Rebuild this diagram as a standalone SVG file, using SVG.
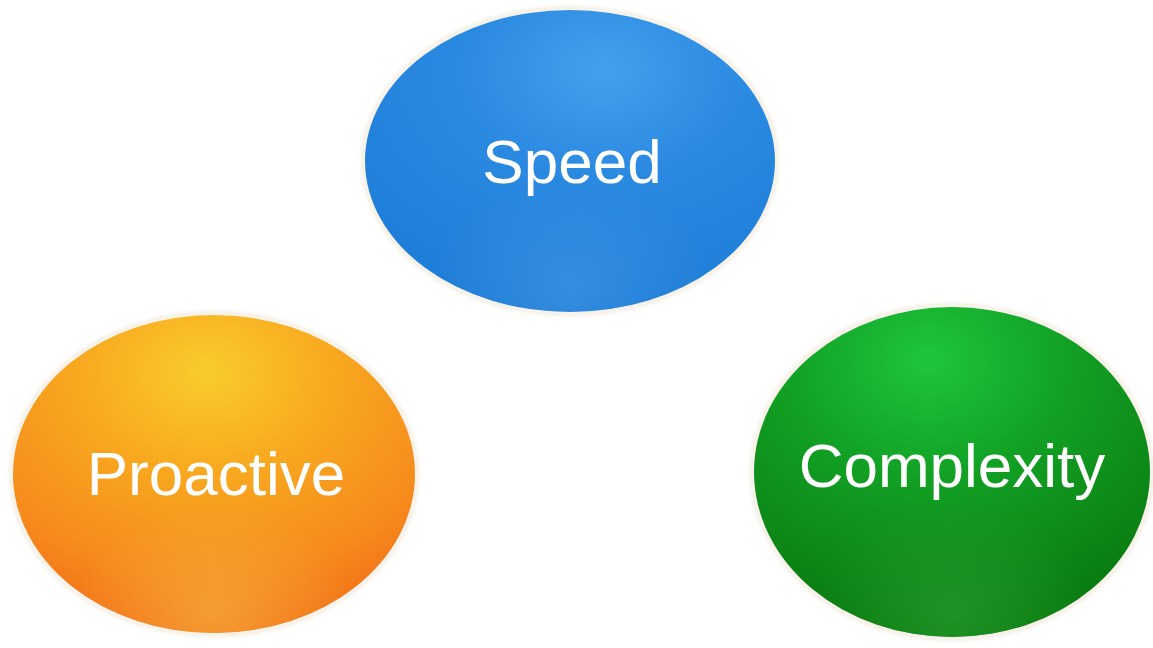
<svg xmlns="http://www.w3.org/2000/svg" width="1153" height="648" viewBox="0 0 1153 648">
  <style>
    .label { font-family: "Liberation Sans", Arial, sans-serif; font-size: 62px; fill: #ffffff; text-anchor: middle; }
    .halo { fill: none; stroke: #f6f1e8; stroke-width: 5; filter: url(#soft); }
  </style>
  <defs>
    <filter id="soft" x="-10%" y="-10%" width="120%" height="120%">
      <feGaussianBlur stdDeviation="1.5"/>
    </filter>
    <!-- top highlight gradients -->
    <radialGradient id="blueTop" cx="0.58" cy="0.2" r="0.8" fx="0.58" fy="0.2">
      <stop offset="0" stop-color="#43a0ef"/>
      <stop offset="0.45" stop-color="#2a89e0"/>
      <stop offset="1" stop-color="#1e7dd8"/>
    </radialGradient>
    <radialGradient id="orangeTop" cx="0.48" cy="0.18" r="0.8" fx="0.48" fy="0.18">
      <stop offset="0" stop-color="#f9cc2c"/>
      <stop offset="0.4" stop-color="#f8a81f"/>
      <stop offset="0.8" stop-color="#f68a1c"/>
      <stop offset="1" stop-color="#f27418"/>
    </radialGradient>
    <radialGradient id="greenTop" cx="0.44" cy="0.16" r="0.8" fx="0.44" fy="0.16">
      <stop offset="0" stop-color="#1ec63c"/>
      <stop offset="0.45" stop-color="#12a024"/>
      <stop offset="1" stop-color="#0a7c10"/>
    </radialGradient>
    <!-- bottom reflection -->
    <radialGradient id="blueLow" cx="0.5" cy="0.92" r="0.35">
      <stop offset="0" stop-color="#5aa8ec" stop-opacity="0.35"/>
      <stop offset="1" stop-color="#5aa8ec" stop-opacity="0"/>
    </radialGradient>
    <radialGradient id="orangeLow" cx="0.5" cy="0.94" r="0.35">
      <stop offset="0" stop-color="#f6ac3c" stop-opacity="0.7"/>
      <stop offset="1" stop-color="#f6ac3c" stop-opacity="0"/>
    </radialGradient>
    <radialGradient id="greenLow" cx="0.5" cy="0.93" r="0.35">
      <stop offset="0" stop-color="#2a9a2e" stop-opacity="0.7"/>
      <stop offset="1" stop-color="#2a9a2e" stop-opacity="0"/>
    </radialGradient>
  </defs>

  <rect width="1153" height="648" fill="#ffffff"/>

  <g id="node-speed">
    <ellipse class="halo" cx="570" cy="161" rx="207" ry="153"/>
    <ellipse cx="570" cy="161" rx="205" ry="151" fill="url(#blueTop)"/>
    <ellipse cx="570" cy="161" rx="205" ry="151" fill="url(#blueLow)"/>
    <text class="label" x="572" y="183">Speed</text>
  </g>

  <g id="node-proactive">
    <ellipse class="halo" cx="214" cy="474" rx="203" ry="161"/>
    <ellipse cx="214" cy="474" rx="201" ry="159" fill="url(#orangeTop)"/>
    <ellipse cx="214" cy="474" rx="201" ry="159" fill="url(#orangeLow)"/>
    <text class="label" x="216" y="495">Proactive</text>
  </g>

  <g id="node-complexity">
    <ellipse class="halo" cx="952" cy="472" rx="200" ry="167"/>
    <ellipse cx="952" cy="472" rx="198" ry="165" fill="url(#greenTop)"/>
    <ellipse cx="952" cy="472" rx="198" ry="165" fill="url(#greenLow)"/>
    <text class="label" x="952" y="487">Complexity</text>
  </g>

  <g id="connectors"/>
</svg>
